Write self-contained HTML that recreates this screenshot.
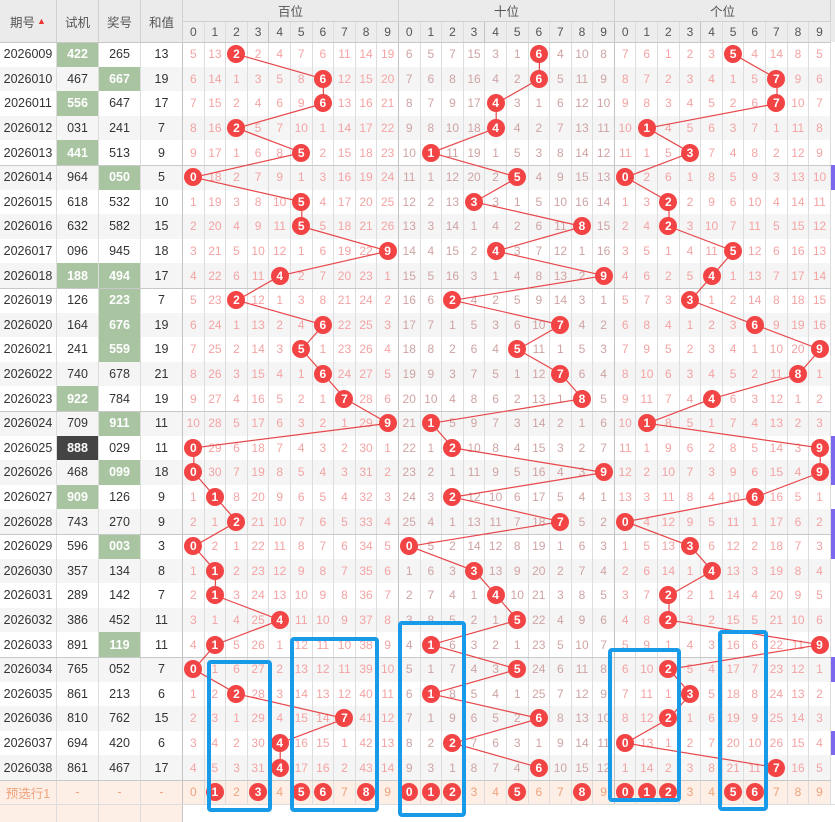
<!DOCTYPE html>
<html><head><meta charset="utf-8"><style>
*{margin:0;padding:0;box-sizing:border-box}
body{width:835px;height:821px;background:#fff;position:relative;overflow:hidden;font-family:"Liberation Sans","Noto Sans CJK SC",sans-serif}
.r{position:absolute;left:0;width:831px;height:24.6px;display:flex;font-size:12px}
.r.s{background:#f5f5f5}
.r i{font-style:normal;width:21.6px;height:100%;display:flex;align-items:center;justify-content:center;border-right:1px solid #ddd;color:#f4a3a3;flex:none}
.r i:nth-child(n+15):nth-child(-n+24){color:#cfa3a3}
.r i:nth-child(4),.r i:nth-child(14),.r i:nth-child(24){border-right-color:#c4c4c4}
.r i.p{width:57px;color:#333;font-size:12.5px}
.r i.q{width:42px;color:#333;font-size:12.5px}
.r i.g{background:#a8c4a1;color:#fff;font-weight:bold}
.r i.k{background:#444;color:#fff;font-weight:bold}
.r b{display:block;width:18px;height:18px;border-radius:50%;background:#f24444;color:#fff;font-size:12px;line-height:18px;text-align:center;font-weight:bold;position:relative;z-index:2}
.pre{background:#fdeee6}
.pre i,.pre i.p,.pre i.q{color:#f0a27a}
.pre i:nth-child(n+15):nth-child(-n+24){color:#f0a27a}
.hl{position:absolute;left:0;width:831px;height:1px;background:#c8c8c8;z-index:1}
.hd{position:absolute;top:0;left:0;width:835px;height:42px;background:#ebebeb;font-size:12.5px;color:#555}
.hd div{position:absolute;display:flex;align-items:center;justify-content:center;border-right:1px solid #d0d0d0}
.pm{position:absolute;left:831px;width:4px;height:24.6px;background:#7b68ee}
.bx{position:absolute;border:4px solid #179ae8;border-radius:4px;z-index:3}
svg{position:absolute;left:0;top:0;z-index:1}
</style></head><body>
<div class="hd">
<div style="left:0;top:0;width:57px;height:42px">期号<span style="color:#e33;font-size:9px;margin-left:2px">▲</span></div>
<div style="left:57px;top:0;width:42px;height:42px">试机</div>
<div style="left:99px;top:0;width:42px;height:42px">奖号</div>
<div style="left:141px;top:0;width:42px;height:42px">和值</div>
<div style="left:183px;top:0;width:216px;height:22px;border-bottom:1px solid #d0d0d0">百位</div>
<div style="left:399px;top:0;width:216px;height:22px;border-bottom:1px solid #d0d0d0">十位</div>
<div style="left:615px;top:0;width:216px;height:22px;border-bottom:1px solid #d0d0d0">个位</div>
</div>
<div class="r" style="top:22px;left:183px;width:648px;height:20px;background:#ededed;color:#555"><i style="color:#555">0</i><i style="color:#555">1</i><i style="color:#555">2</i><i style="color:#555">3</i><i style="color:#555">4</i><i style="color:#555">5</i><i style="color:#555">6</i><i style="color:#555">7</i><i style="color:#555">8</i><i style="color:#555;border-right-color:#c4c4c4">9</i><i style="color:#555">0</i><i style="color:#555">1</i><i style="color:#555">2</i><i style="color:#555">3</i><i style="color:#555">4</i><i style="color:#555">5</i><i style="color:#555">6</i><i style="color:#555">7</i><i style="color:#555">8</i><i style="color:#555;border-right-color:#c4c4c4">9</i><i style="color:#555">0</i><i style="color:#555">1</i><i style="color:#555">2</i><i style="color:#555">3</i><i style="color:#555">4</i><i style="color:#555">5</i><i style="color:#555">6</i><i style="color:#555">7</i><i style="color:#555">8</i><i style="color:#555">9</i></div>

<div class="r" style="top:42px"><i class="p">2026009</i><i class="q g">422</i><i class="q">265</i><i class="q">13</i><i>5</i><i>13</i><i><b>2</b></i><i>2</i><i>4</i><i>7</i><i>6</i><i>11</i><i>14</i><i>19</i><i>6</i><i>5</i><i>7</i><i>15</i><i>3</i><i>1</i><i><b>6</b></i><i>4</i><i>10</i><i>8</i><i>7</i><i>6</i><i>1</i><i>2</i><i>3</i><i><b>5</b></i><i>4</i><i>14</i><i>8</i><i>5</i></div>
<div class="r s" style="top:66.6px"><i class="p">2026010</i><i class="q">467</i><i class="q g">667</i><i class="q">19</i><i>6</i><i>14</i><i>1</i><i>3</i><i>5</i><i>8</i><i><b>6</b></i><i>12</i><i>15</i><i>20</i><i>7</i><i>6</i><i>8</i><i>16</i><i>4</i><i>2</i><i><b>6</b></i><i>5</i><i>11</i><i>9</i><i>8</i><i>7</i><i>2</i><i>3</i><i>4</i><i>1</i><i>5</i><i><b>7</b></i><i>9</i><i>6</i></div>
<div class="r" style="top:91.2px"><i class="p">2026011</i><i class="q g">556</i><i class="q">647</i><i class="q">17</i><i>7</i><i>15</i><i>2</i><i>4</i><i>6</i><i>9</i><i><b>6</b></i><i>13</i><i>16</i><i>21</i><i>8</i><i>7</i><i>9</i><i>17</i><i><b>4</b></i><i>3</i><i>1</i><i>6</i><i>12</i><i>10</i><i>9</i><i>8</i><i>3</i><i>4</i><i>5</i><i>2</i><i>6</i><i><b>7</b></i><i>10</i><i>7</i></div>
<div class="r s" style="top:115.8px"><i class="p">2026012</i><i class="q">031</i><i class="q">241</i><i class="q">7</i><i>8</i><i>16</i><i><b>2</b></i><i>5</i><i>7</i><i>10</i><i>1</i><i>14</i><i>17</i><i>22</i><i>9</i><i>8</i><i>10</i><i>18</i><i><b>4</b></i><i>4</i><i>2</i><i>7</i><i>13</i><i>11</i><i>10</i><i><b>1</b></i><i>4</i><i>5</i><i>6</i><i>3</i><i>7</i><i>1</i><i>11</i><i>8</i></div>
<div class="r" style="top:140.4px"><i class="p">2026013</i><i class="q g">441</i><i class="q">513</i><i class="q">9</i><i>9</i><i>17</i><i>1</i><i>6</i><i>8</i><i><b>5</b></i><i>2</i><i>15</i><i>18</i><i>23</i><i>10</i><i><b>1</b></i><i>11</i><i>19</i><i>1</i><i>5</i><i>3</i><i>8</i><i>14</i><i>12</i><i>11</i><i>1</i><i>5</i><i><b>3</b></i><i>7</i><i>4</i><i>8</i><i>2</i><i>12</i><i>9</i></div>
<div class="r s" style="top:165px"><i class="p">2026014</i><i class="q">964</i><i class="q g">050</i><i class="q">5</i><i><b>0</b></i><i>18</i><i>2</i><i>7</i><i>9</i><i>1</i><i>3</i><i>16</i><i>19</i><i>24</i><i>11</i><i>1</i><i>12</i><i>20</i><i>2</i><i><b>5</b></i><i>4</i><i>9</i><i>15</i><i>13</i><i><b>0</b></i><i>2</i><i>6</i><i>1</i><i>8</i><i>5</i><i>9</i><i>3</i><i>13</i><i>10</i></div>
<div class="r" style="top:189.6px"><i class="p">2026015</i><i class="q">618</i><i class="q">532</i><i class="q">10</i><i>1</i><i>19</i><i>3</i><i>8</i><i>10</i><i><b>5</b></i><i>4</i><i>17</i><i>20</i><i>25</i><i>12</i><i>2</i><i>13</i><i><b>3</b></i><i>3</i><i>1</i><i>5</i><i>10</i><i>16</i><i>14</i><i>1</i><i>3</i><i><b>2</b></i><i>2</i><i>9</i><i>6</i><i>10</i><i>4</i><i>14</i><i>11</i></div>
<div class="r s" style="top:214.2px"><i class="p">2026016</i><i class="q">632</i><i class="q">582</i><i class="q">15</i><i>2</i><i>20</i><i>4</i><i>9</i><i>11</i><i><b>5</b></i><i>5</i><i>18</i><i>21</i><i>26</i><i>13</i><i>3</i><i>14</i><i>1</i><i>4</i><i>2</i><i>6</i><i>11</i><i><b>8</b></i><i>15</i><i>2</i><i>4</i><i><b>2</b></i><i>3</i><i>10</i><i>7</i><i>11</i><i>5</i><i>15</i><i>12</i></div>
<div class="r" style="top:238.8px"><i class="p">2026017</i><i class="q">096</i><i class="q">945</i><i class="q">18</i><i>3</i><i>21</i><i>5</i><i>10</i><i>12</i><i>1</i><i>6</i><i>19</i><i>22</i><i><b>9</b></i><i>14</i><i>4</i><i>15</i><i>2</i><i><b>4</b></i><i>3</i><i>7</i><i>12</i><i>1</i><i>16</i><i>3</i><i>5</i><i>1</i><i>4</i><i>11</i><i><b>5</b></i><i>12</i><i>6</i><i>16</i><i>13</i></div>
<div class="r s" style="top:263.4px"><i class="p">2026018</i><i class="q g">188</i><i class="q g">494</i><i class="q">17</i><i>4</i><i>22</i><i>6</i><i>11</i><i><b>4</b></i><i>2</i><i>7</i><i>20</i><i>23</i><i>1</i><i>15</i><i>5</i><i>16</i><i>3</i><i>1</i><i>4</i><i>8</i><i>13</i><i>2</i><i><b>9</b></i><i>4</i><i>6</i><i>2</i><i>5</i><i><b>4</b></i><i>1</i><i>13</i><i>7</i><i>17</i><i>14</i></div>
<div class="r" style="top:288px"><i class="p">2026019</i><i class="q">126</i><i class="q g">223</i><i class="q">7</i><i>5</i><i>23</i><i><b>2</b></i><i>12</i><i>1</i><i>3</i><i>8</i><i>21</i><i>24</i><i>2</i><i>16</i><i>6</i><i><b>2</b></i><i>4</i><i>2</i><i>5</i><i>9</i><i>14</i><i>3</i><i>1</i><i>5</i><i>7</i><i>3</i><i><b>3</b></i><i>1</i><i>2</i><i>14</i><i>8</i><i>18</i><i>15</i></div>
<div class="r s" style="top:312.6px"><i class="p">2026020</i><i class="q">164</i><i class="q g">676</i><i class="q">19</i><i>6</i><i>24</i><i>1</i><i>13</i><i>2</i><i>4</i><i><b>6</b></i><i>22</i><i>25</i><i>3</i><i>17</i><i>7</i><i>1</i><i>5</i><i>3</i><i>6</i><i>10</i><i><b>7</b></i><i>4</i><i>2</i><i>6</i><i>8</i><i>4</i><i>1</i><i>2</i><i>3</i><i><b>6</b></i><i>9</i><i>19</i><i>16</i></div>
<div class="r" style="top:337.2px"><i class="p">2026021</i><i class="q">241</i><i class="q g">559</i><i class="q">19</i><i>7</i><i>25</i><i>2</i><i>14</i><i>3</i><i><b>5</b></i><i>1</i><i>23</i><i>26</i><i>4</i><i>18</i><i>8</i><i>2</i><i>6</i><i>4</i><i><b>5</b></i><i>11</i><i>1</i><i>5</i><i>3</i><i>7</i><i>9</i><i>5</i><i>2</i><i>3</i><i>4</i><i>1</i><i>10</i><i>20</i><i><b>9</b></i></div>
<div class="r s" style="top:361.8px"><i class="p">2026022</i><i class="q">740</i><i class="q">678</i><i class="q">21</i><i>8</i><i>26</i><i>3</i><i>15</i><i>4</i><i>1</i><i><b>6</b></i><i>24</i><i>27</i><i>5</i><i>19</i><i>9</i><i>3</i><i>7</i><i>5</i><i>1</i><i>12</i><i><b>7</b></i><i>6</i><i>4</i><i>8</i><i>10</i><i>6</i><i>3</i><i>4</i><i>5</i><i>2</i><i>11</i><i><b>8</b></i><i>1</i></div>
<div class="r" style="top:386.4px"><i class="p">2026023</i><i class="q g">922</i><i class="q">784</i><i class="q">19</i><i>9</i><i>27</i><i>4</i><i>16</i><i>5</i><i>2</i><i>1</i><i><b>7</b></i><i>28</i><i>6</i><i>20</i><i>10</i><i>4</i><i>8</i><i>6</i><i>2</i><i>13</i><i>1</i><i><b>8</b></i><i>5</i><i>9</i><i>11</i><i>7</i><i>4</i><i><b>4</b></i><i>6</i><i>3</i><i>12</i><i>1</i><i>2</i></div>
<div class="r s" style="top:411px"><i class="p">2026024</i><i class="q">709</i><i class="q g">911</i><i class="q">11</i><i>10</i><i>28</i><i>5</i><i>17</i><i>6</i><i>3</i><i>2</i><i>1</i><i>29</i><i><b>9</b></i><i>21</i><i><b>1</b></i><i>5</i><i>9</i><i>7</i><i>3</i><i>14</i><i>2</i><i>1</i><i>6</i><i>10</i><i><b>1</b></i><i>8</i><i>5</i><i>1</i><i>7</i><i>4</i><i>13</i><i>2</i><i>3</i></div>
<div class="r" style="top:435.6px"><i class="p">2026025</i><i class="q k">888</i><i class="q">029</i><i class="q">11</i><i><b>0</b></i><i>29</i><i>6</i><i>18</i><i>7</i><i>4</i><i>3</i><i>2</i><i>30</i><i>1</i><i>22</i><i>1</i><i><b>2</b></i><i>10</i><i>8</i><i>4</i><i>15</i><i>3</i><i>2</i><i>7</i><i>11</i><i>1</i><i>9</i><i>6</i><i>2</i><i>8</i><i>5</i><i>14</i><i>3</i><i><b>9</b></i></div>
<div class="r s" style="top:460.2px"><i class="p">2026026</i><i class="q">468</i><i class="q g">099</i><i class="q">18</i><i><b>0</b></i><i>30</i><i>7</i><i>19</i><i>8</i><i>5</i><i>4</i><i>3</i><i>31</i><i>2</i><i>23</i><i>2</i><i>1</i><i>11</i><i>9</i><i>5</i><i>16</i><i>4</i><i>3</i><i><b>9</b></i><i>12</i><i>2</i><i>10</i><i>7</i><i>3</i><i>9</i><i>6</i><i>15</i><i>4</i><i><b>9</b></i></div>
<div class="r" style="top:484.8px"><i class="p">2026027</i><i class="q g">909</i><i class="q">126</i><i class="q">9</i><i>1</i><i><b>1</b></i><i>8</i><i>20</i><i>9</i><i>6</i><i>5</i><i>4</i><i>32</i><i>3</i><i>24</i><i>3</i><i><b>2</b></i><i>12</i><i>10</i><i>6</i><i>17</i><i>5</i><i>4</i><i>1</i><i>13</i><i>3</i><i>11</i><i>8</i><i>4</i><i>10</i><i><b>6</b></i><i>16</i><i>5</i><i>1</i></div>
<div class="r s" style="top:509.4px"><i class="p">2026028</i><i class="q">743</i><i class="q">270</i><i class="q">9</i><i>2</i><i>1</i><i><b>2</b></i><i>21</i><i>10</i><i>7</i><i>6</i><i>5</i><i>33</i><i>4</i><i>25</i><i>4</i><i>1</i><i>13</i><i>11</i><i>7</i><i>18</i><i><b>7</b></i><i>5</i><i>2</i><i><b>0</b></i><i>4</i><i>12</i><i>9</i><i>5</i><i>11</i><i>1</i><i>17</i><i>6</i><i>2</i></div>
<div class="r" style="top:534px"><i class="p">2026029</i><i class="q">596</i><i class="q g">003</i><i class="q">3</i><i><b>0</b></i><i>2</i><i>1</i><i>22</i><i>11</i><i>8</i><i>7</i><i>6</i><i>34</i><i>5</i><i><b>0</b></i><i>5</i><i>2</i><i>14</i><i>12</i><i>8</i><i>19</i><i>1</i><i>6</i><i>3</i><i>1</i><i>5</i><i>13</i><i><b>3</b></i><i>6</i><i>12</i><i>2</i><i>18</i><i>7</i><i>3</i></div>
<div class="r s" style="top:558.6px"><i class="p">2026030</i><i class="q">357</i><i class="q">134</i><i class="q">8</i><i>1</i><i><b>1</b></i><i>2</i><i>23</i><i>12</i><i>9</i><i>8</i><i>7</i><i>35</i><i>6</i><i>1</i><i>6</i><i>3</i><i><b>3</b></i><i>13</i><i>9</i><i>20</i><i>2</i><i>7</i><i>4</i><i>2</i><i>6</i><i>14</i><i>1</i><i><b>4</b></i><i>13</i><i>3</i><i>19</i><i>8</i><i>4</i></div>
<div class="r" style="top:583.2px"><i class="p">2026031</i><i class="q">289</i><i class="q">142</i><i class="q">7</i><i>2</i><i><b>1</b></i><i>3</i><i>24</i><i>13</i><i>10</i><i>9</i><i>8</i><i>36</i><i>7</i><i>2</i><i>7</i><i>4</i><i>1</i><i><b>4</b></i><i>10</i><i>21</i><i>3</i><i>8</i><i>5</i><i>3</i><i>7</i><i><b>2</b></i><i>2</i><i>1</i><i>14</i><i>4</i><i>20</i><i>9</i><i>5</i></div>
<div class="r s" style="top:607.8px"><i class="p">2026032</i><i class="q">386</i><i class="q">452</i><i class="q">11</i><i>3</i><i>1</i><i>4</i><i>25</i><i><b>4</b></i><i>11</i><i>10</i><i>9</i><i>37</i><i>8</i><i>3</i><i>8</i><i>5</i><i>2</i><i>1</i><i><b>5</b></i><i>22</i><i>4</i><i>9</i><i>6</i><i>4</i><i>8</i><i><b>2</b></i><i>3</i><i>2</i><i>15</i><i>5</i><i>21</i><i>10</i><i>6</i></div>
<div class="r" style="top:632.4px"><i class="p">2026033</i><i class="q">891</i><i class="q g">119</i><i class="q">11</i><i>4</i><i><b>1</b></i><i>5</i><i>26</i><i>1</i><i>12</i><i>11</i><i>10</i><i>38</i><i>9</i><i>4</i><i><b>1</b></i><i>6</i><i>3</i><i>2</i><i>1</i><i>23</i><i>5</i><i>10</i><i>7</i><i>5</i><i>9</i><i>1</i><i>4</i><i>3</i><i>16</i><i>6</i><i>22</i><i>11</i><i><b>9</b></i></div>
<div class="r s" style="top:657px"><i class="p">2026034</i><i class="q">765</i><i class="q">052</i><i class="q">7</i><i><b>0</b></i><i>1</i><i>6</i><i>27</i><i>2</i><i>13</i><i>12</i><i>11</i><i>39</i><i>10</i><i>5</i><i>1</i><i>7</i><i>4</i><i>3</i><i><b>5</b></i><i>24</i><i>6</i><i>11</i><i>8</i><i>6</i><i>10</i><i><b>2</b></i><i>5</i><i>4</i><i>17</i><i>7</i><i>23</i><i>12</i><i>1</i></div>
<div class="r" style="top:681.6px"><i class="p">2026035</i><i class="q">861</i><i class="q">213</i><i class="q">6</i><i>1</i><i>2</i><i><b>2</b></i><i>28</i><i>3</i><i>14</i><i>13</i><i>12</i><i>40</i><i>11</i><i>6</i><i><b>1</b></i><i>8</i><i>5</i><i>4</i><i>1</i><i>25</i><i>7</i><i>12</i><i>9</i><i>7</i><i>11</i><i>1</i><i><b>3</b></i><i>5</i><i>18</i><i>8</i><i>24</i><i>13</i><i>2</i></div>
<div class="r s" style="top:706.2px"><i class="p">2026036</i><i class="q">810</i><i class="q">762</i><i class="q">15</i><i>2</i><i>3</i><i>1</i><i>29</i><i>4</i><i>15</i><i>14</i><i><b>7</b></i><i>41</i><i>12</i><i>7</i><i>1</i><i>9</i><i>6</i><i>5</i><i>2</i><i><b>6</b></i><i>8</i><i>13</i><i>10</i><i>8</i><i>12</i><i><b>2</b></i><i>1</i><i>6</i><i>19</i><i>9</i><i>25</i><i>14</i><i>3</i></div>
<div class="r" style="top:730.8px"><i class="p">2026037</i><i class="q">694</i><i class="q">420</i><i class="q">6</i><i>3</i><i>4</i><i>2</i><i>30</i><i><b>4</b></i><i>16</i><i>15</i><i>1</i><i>42</i><i>13</i><i>8</i><i>2</i><i><b>2</b></i><i>7</i><i>6</i><i>3</i><i>1</i><i>9</i><i>14</i><i>11</i><i><b>0</b></i><i>13</i><i>1</i><i>2</i><i>7</i><i>20</i><i>10</i><i>26</i><i>15</i><i>4</i></div>
<div class="r s" style="top:755.4px"><i class="p">2026038</i><i class="q">861</i><i class="q">467</i><i class="q">17</i><i>4</i><i>5</i><i>3</i><i>31</i><i><b>4</b></i><i>17</i><i>16</i><i>2</i><i>43</i><i>14</i><i>9</i><i>3</i><i>1</i><i>8</i><i>7</i><i>4</i><i><b>6</b></i><i>10</i><i>15</i><i>12</i><i>1</i><i>14</i><i>2</i><i>3</i><i>8</i><i>21</i><i>11</i><i><b>7</b></i><i>16</i><i>5</i></div>
<div class="r pre" style="top:780px"><i class="p">预选行1</i><i class="q">-</i><i class="q">-</i><i class="q">-</i><i>0</i><i><b>1</b></i><i>2</i><i><b>3</b></i><i>4</i><i><b>5</b></i><i><b>6</b></i><i>7</i><i><b>8</b></i><i>9</i><i><b>0</b></i><i><b>1</b></i><i><b>2</b></i><i>3</i><i>4</i><i><b>5</b></i><i>6</i><i>7</i><i><b>8</b></i><i>9</i><i><b>0</b></i><i><b>1</b></i><i><b>2</b></i><i>3</i><i>4</i><i><b>5</b></i><i><b>6</b></i><i>7</i><i>8</i><i>9</i></div>
<div class="r" style="top:804.6px;width:183px;height:17px;background:#fdeee6"><i class="p"></i><i class="q"></i><i class="q"></i><i class="q"></i></div>
<div class="hl" style="top:804px;width:835px;background:#ddd"></div>

<div class="hl" style="top:42px"></div>
<div class="hl" style="top:165px"></div>
<div class="hl" style="top:288px"></div>
<div class="hl" style="top:411px"></div>
<div class="hl" style="top:534px"></div>
<div class="hl" style="top:657px"></div>
<div class="hl" style="top:780px"></div>

<div class="pm" style="top:165px"></div>
<div class="pm" style="top:435.6px;height:49.2px"></div>
<div class="pm" style="top:509.4px;height:49.2px"></div>
<div class="pm" style="top:657px"></div>
<div class="pm" style="top:730.8px"></div>

<svg width="835" height="821" viewBox="0 0 835 821">
<g fill="none" stroke="#e8474a" stroke-width="1.2">
<polyline points="237,54.3 323.4,78.9 323.4,103.5 237,128.1 301.8,152.7 193.8,177.3 301.8,201.9 301.8,226.5 388.2,251.1 280.2,275.7 237,300.3 323.4,324.9 301.8,349.5 323.4,374.1 345,398.7 388.2,423.3 193.8,447.9 193.8,472.5 215.4,497.1 237,521.7 193.8,546.3 215.4,570.9 215.4,595.5 280.2,620.1 215.4,644.7 193.8,669.3 237,693.9 345,718.5 280.2,743.1 280.2,767.7"/>
<polyline points="539.4,54.3 539.4,78.9 496.2,103.5 496.2,128.1 431.4,152.7 517.8,177.3 474.6,201.9 582.6,226.5 496.2,251.1 604.2,275.7 453,300.3 561,324.9 517.8,349.5 561,374.1 582.6,398.7 431.4,423.3 453,447.9 604.2,472.5 453,497.1 561,521.7 409.8,546.3 474.6,570.9 496.2,595.5 517.8,620.1 431.4,644.7 517.8,669.3 431.4,693.9 539.4,718.5 453,743.1 539.4,767.7"/>
<polyline points="733.8,54.3 777,78.9 777,103.5 647.4,128.1 690.6,152.7 625.8,177.3 669,201.9 669,226.5 733.8,251.1 712.2,275.7 690.6,300.3 755.4,324.9 820.2,349.5 798.6,374.1 712.2,398.7 647.4,423.3 820.2,447.9 820.2,472.5 755.4,497.1 625.8,521.7 690.6,546.3 712.2,570.9 669,595.5 669,620.1 820.2,644.7 669,669.3 690.6,693.9 669,718.5 625.8,743.1 777,767.7"/>
</g>
</svg>

<div class="bx" style="left:207px;top:660px;width:65px;height:152px"></div>
<div class="bx" style="left:290px;top:637px;width:89px;height:175px"></div>
<div class="bx" style="left:398px;top:621px;width:68px;height:196px"></div>
<div class="bx" style="left:608px;top:648px;width:73px;height:154px"></div>
<div class="bx" style="left:718px;top:630px;width:50px;height:181px"></div>
</body></html>
